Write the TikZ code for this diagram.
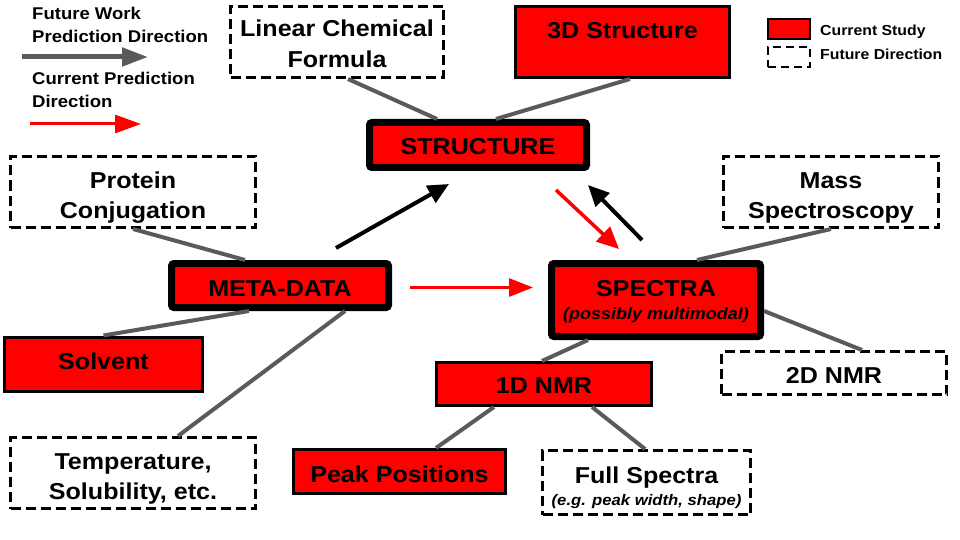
\documentclass[tikz,border=0pt]{standalone}
\usepackage{fontspec}
\setmainfont[FakeStretch=1.09]{Liberation Sans}
\usetikzlibrary{arrows.meta}
\definecolor{conn}{RGB}{90,90,90}
\definecolor{boxred}{RGB}{255,0,0}
% two-line text block: #1 first-line height, #2 first line, #3 baseline distance, #4 second line, #5 extra depth
\newcommand{\twoln}[5]{\vbox{\offinterlineskip\halign{\hfil##\hfil\cr
  \vrule height #1 depth 0pt width 0pt\raisebox{0pt}[0pt][0pt]{#2}\cr
  \vrule height #3 depth #5 width 0pt\raisebox{0pt}[0pt][0pt]{#4}\cr}}}
\begin{document}
\begin{tikzpicture}[x=1pt,y=-1pt,
  big/.style={font=\fontsize{23}{30}\selectfont\bfseries, align=center, inner sep=0pt},
  cur/.style={big, draw=black, line width=3pt, fill=boxred},
  fut/.style={big, draw=black, line width=3pt, dash pattern=on 10pt off 5pt},
  mainbox/.style={big, draw=black, line width=7pt, fill=boxred, rounded corners=2.5pt},
  conline/.style={draw=conn, line width=4pt},
  bigarrow/.style={draw=black, line width=4pt, -{Triangle[length=21pt,width=19pt]}},
  redarrow/.style={draw=boxred, line width=3pt, -{Triangle[length=24pt,width=18pt]}},
  legtxt/.style={font=\fontsize{17}{23}\selectfont\bfseries, align=left, inner sep=0pt, anchor=west},
  legtxt2/.style={font=\fontsize{14.5}{18}\selectfont\bfseries, inner sep=0pt, anchor=west}
]
\useasboundingbox (0,0) rectangle (960,540);

% legend top-left
\node[legtxt] (lfw) at (32,24.5) {Future Work\\Prediction Direction};
\coordinate (gas) at (22,57);
\coordinate (gae) at (148,57);
\draw[draw=conn, line width=5pt, -{Triangle[length=26pt,width=18pt]}] (gas) -- (gae);
\node[legtxt] (lcp) at (32,89.5) {Current Prediction\\Direction};
\coordinate (ras) at (30,124);
\coordinate (rae) at (141,124);
\draw[draw=boxred, line width=3pt, -{Triangle[length=26pt,width=18pt]}] (ras) -- (rae);

% legend top-right
\node[draw=black, line width=2.5pt, fill=boxred, minimum width=42pt, minimum height=20pt, inner sep=0pt] (lcur) at (789,29) {};
\node[draw=black, line width=2.5pt, dash pattern=on 8pt off 5pt, minimum width=42pt, minimum height=20pt, inner sep=0pt] (lfut) at (789,57) {};
\node[legtxt2] (lcurt) at (820,31.5) {Current Study};
\node[legtxt2] (lfutt) at (820,54) {Future Direction};

% boxes
\node[fut, minimum width=213pt, minimum height=71pt] (lcf) at (337,42) {\twoln{21pt}{Linear Chemical}{31pt}{Formula}{0pt}};
\node[cur, minimum width=214pt, minimum height=71pt, text height=16.8pt, text depth=24.2pt] (d3) at (622.5,42) {3D Structure};
\node[mainbox, minimum width=217pt, minimum height=45pt, text height=20pt, text depth=0pt] (struct) at (478,145) {STRUCTURE};
\node[fut, minimum width=245pt, minimum height=71pt] (prot) at (133,192) {\twoln{22.6pt}{Protein}{30pt}{Conjugation}{0pt}};
\node[fut, minimum width=215pt, minimum height=71pt] (mass) at (831,192) {\twoln{22.6pt}{Mass}{30pt}{Spectroscopy}{0pt}};
\node[mainbox, minimum width=217pt, minimum height=44pt, text height=22.4pt, text depth=0pt] (meta) at (280,285.5) {META-DATA};
\node[mainbox, minimum width=209pt, minimum height=73pt] (spec) at (656,300) {\twoln{17.4pt}{SPECTRA}{23pt}{\fontsize{16.5}{20}\selectfont\bfseries\itshape (possibly multimodal)}{1pt}};
\node[cur, minimum width=198pt, minimum height=54pt, text height=16.8pt, text depth=6.2pt] (solv) at (103.5,364) {Solvent};
\node[fut, minimum width=225pt, minimum height=43pt, text height=20.6pt, text depth=0pt] (nmr2) at (834,373) {2D NMR};
\node[cur, minimum width=215pt, minimum height=43pt, text height=18.6pt, text depth=0pt] (nmr1) at (544,384) {1D NMR};
\node[fut, minimum width=245pt, minimum height=71pt] (temp) at (133,473) {\twoln{22.6pt}{Temperature,}{30pt}{Solubility, etc.}{0pt}};
\node[cur, minimum width=212pt, minimum height=44pt, text height=22pt, text depth=0pt] (peak) at (399.5,471.5) {Peak Positions};
\node[fut, minimum width=208pt, minimum height=64pt] (full) at (646.5,482.5) {\twoln{23.3pt}{Full Spectra}{21.7pt}{\fontsize{15.3}{18}\selectfont\bfseries\itshape (e.g. peak width, shape)}{0pt}};

% grey connectors
\draw[conline] ([xshift=11pt]lcf.south) -- ([xshift=-41pt]struct.north);
\draw[conline] ([xshift=7.5pt]d3.south) -- ([xshift=18pt]struct.north);
\draw[conline] (prot.south) -- ([xshift=-35pt]meta.north);
\draw[conline] ([xshift=-31pt]meta.south) -- (solv.north);
\draw[conline] ([xshift=65pt]meta.south) -- ([xshift=45pt]temp.north);
\draw[conline] (mass.south) -- ([xshift=41pt]spec.north);
\draw[conline] ([yshift=-11pt]spec.east) -- ([xshift=28pt]nmr2.north);
\draw[conline] ([xshift=-68pt]spec.south) -- ([xshift=-2pt]nmr1.north);
\draw[conline] ([xshift=-50pt]nmr1.south) -- ([xshift=36.5pt]peak.north);
\draw[conline] ([xshift=48pt]nmr1.south) -- ([xshift=-1.5pt]full.north);

% prediction arrows
\coordinate (a1s) at (336,248);
\coordinate (a1e) at (449,184);
\draw[bigarrow] (a1s) -- (a1e);
\coordinate (a2s) at (410,287.5);
\coordinate (a2e) at (533,287.5);
\draw[redarrow] (a2s) -- (a2e);
\coordinate (a3s) at (556,190);
\coordinate (a3e) at (619,249);
\draw[draw=boxred, line width=3.5pt, -{Triangle[length=22pt,width=20pt]}] (a3s) -- (a3e);
\coordinate (a4s) at (642,240);
\coordinate (a4e) at (588,185);
\draw[bigarrow] (a4s) -- (a4e);
\end{tikzpicture}
\end{document}
